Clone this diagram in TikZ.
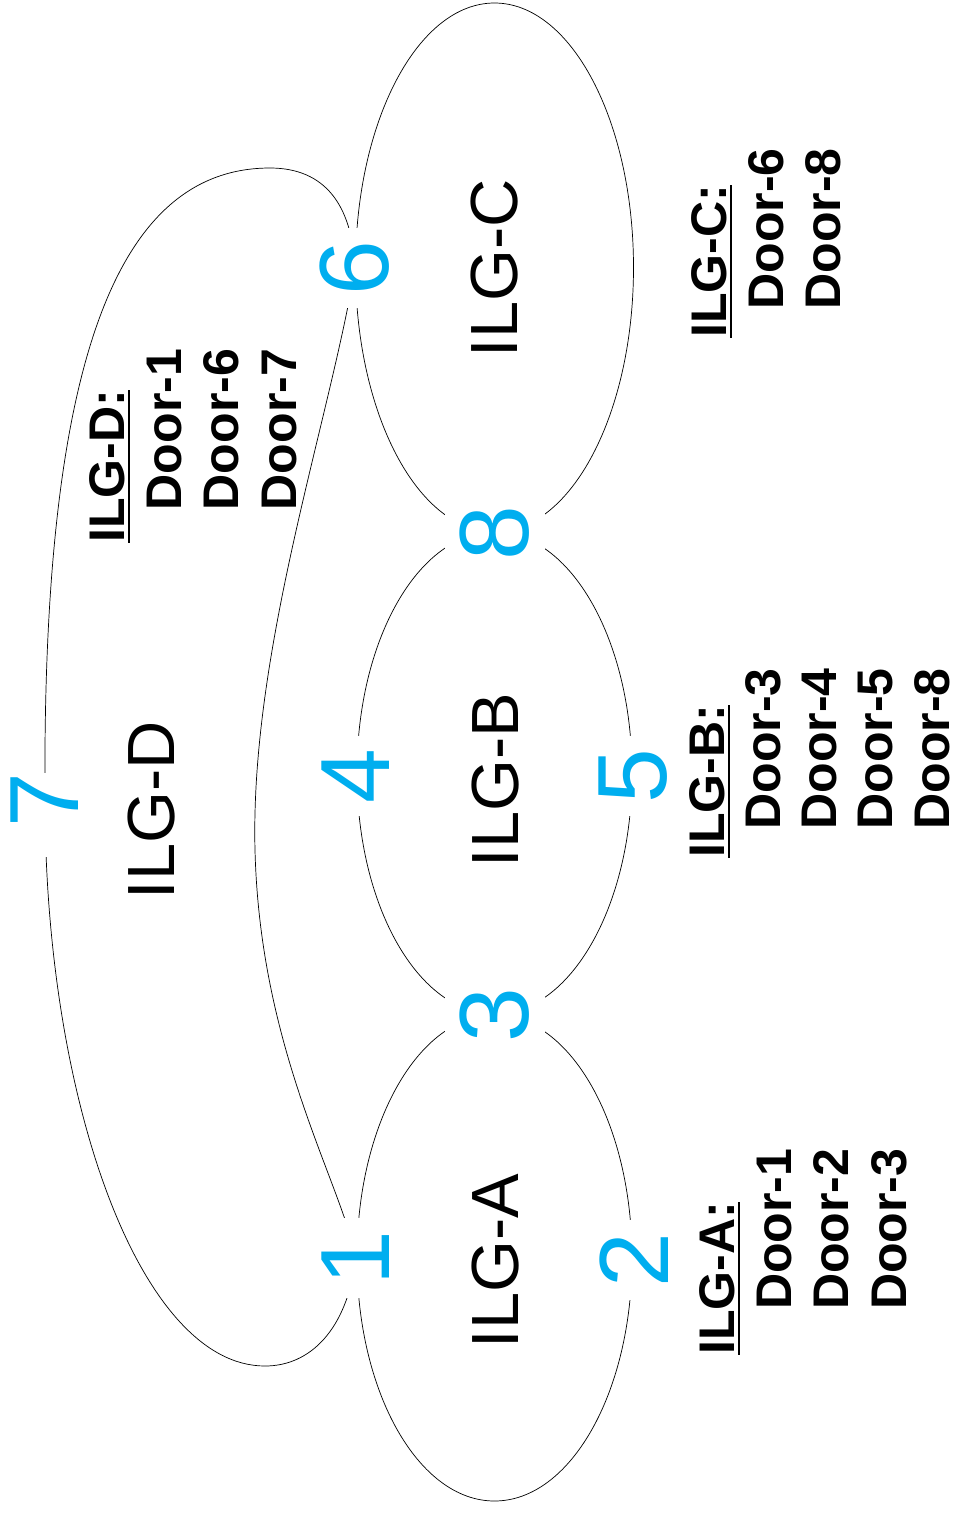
\documentclass[tikz,border=0pt]{standalone}
\usepackage{fontspec}
\setmainfont{Liberation Sans}
\usetikzlibrary{backgrounds}

\definecolor{doorblue}{HTML}{00AEEF}
\newcommand\ilghead[1]{\setbox0\hbox{#1}\rlap{\rule[-3.5pt]{\wd0}{1.4pt}}\box0}

\tikzset{
    door/.style={rotate=90, fill=white, inner sep=0pt, minimum width=45pt, minimum height=57pt,
        text=doorblue, font=\fontsize{56}{60}\selectfont},
    region/.style={rotate=90, font=\fontsize{38}{40}\selectfont},
    doorlist/.style={rotate=90, anchor=north west, align=left, inner sep=0pt,
        font=\bfseries\fontsize{28.5}{32.6}\selectfont},
    wall/.style={line width=0.7pt, black!90}
}

\begin{document}
\begin{tikzpicture}[x=0.02cm, y=-0.02cm]
    \useasboundingbox (0,0) rectangle (960,1522);
    % doors
    \node[door] (d1) at (356,1258) {1};
    \node[door] (d2) at (634,1260) {2};
    \node[door] (d3) at (495,1015) {3};
    \node[door] (d4) at (356,776) {4};
    \node[door] (d5) at (633,776) {5};
    \node[door] (d6) at (355,268) {6};
    \node[door] (d7) at (45,815) {\hspace*{17pt}7};
    \node[door] (d8) at (495,533) {8};
    % regions
    \node[region] (ilgA) at (496,1261) {ILG-A};
    \node[region] (ilgB) at (496,780) {ILG-B};
    \node[region] (ilgC) at (495,268) {ILG-C};
    \node[region] (ilgD) at (152,810) {ILG-D};
    % door lists
    \node[doorlist] (listA) at (699,1355) {\ilghead{ILG-A:}\\\hspace*{25.5pt}Door-1\\\hspace*{25.5pt}Door-2\\\hspace*{25.5pt}Door-3};
    \node[doorlist, font=\bfseries\fontsize{28.5}{32}\selectfont] (listB) at (689,858) {\ilghead{ILG-B:}\\\hspace*{16pt}Door-3\\\hspace*{16pt}Door-4\\\hspace*{16pt}Door-5\\\hspace*{16pt}Door-8};
    \node[doorlist] (listC) at (691,338) {\ilghead{ILG-C:}\\\hspace*{16pt}Door-6\\\hspace*{16pt}Door-8};
    \node[doorlist] (listD) at (89,543) {\ilghead{ILG-D:}\\\hspace*{18.5pt}Door-1\\\hspace*{18.5pt}Door-6\\\hspace*{18.5pt}Door-7};
    % walls
    \begin{scope}[on background layer, wall]
        \fill[white] (0,0) rectangle (960,1522);
        \draw (494.5,267.5) ellipse [x radius=139, y radius=264.5];
        \draw (494.5,773) ellipse [x radius=137.5, y radius=241];
        \draw (494.5,1258) ellipse [x radius=137.5, y radius=243];
        \draw (d1.center) .. controls (347,1330) and (310,1366) .. (265,1366)
            .. controls (140,1366) and (45,1100) .. (45,800)
            .. controls (42,380) and (110,168) .. (270,168)
            .. controls (325,168) and (352,205) .. (d6.center);
        \draw (d6.center) .. controls (330,420) and (250,650) .. (255,850)
            .. controls (260,1050) and (340,1180) .. (d1.center);
    \end{scope}
\end{tikzpicture}
\end{document}
